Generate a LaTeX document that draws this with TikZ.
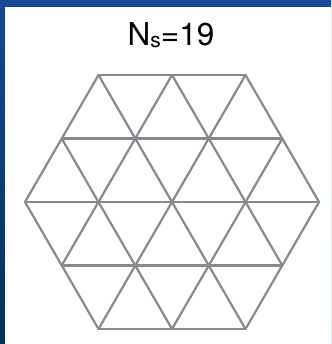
\documentclass[tikz,border=0pt]{standalone}
\usepackage{fontspec}
\setmainfont{TeX Gyre Heros}
\definecolor{bluetop}{RGB}{22,72,150}
\definecolor{bluebot}{RGB}{5,50,88}
\definecolor{gridgray}{RGB}{135,137,142}
\tikzset{gridline/.style={draw=gridgray,line width=2.2pt,line cap=round,line join=round}}
\begin{document}
\begin{tikzpicture}[x=1pt,y=-1pt]
\useasboundingbox (0,0) rectangle (331,344);
\shade[top color=bluetop,bottom color=bluebot] (0,0) rectangle (331,344);
\fill[white] (5,7) rectangle (331,344);
\node[anchor=base,inner sep=0pt,font=\fontsize{31.5}{36}\selectfont] (title) at (171,46)
  {N\raisebox{-2pt}{\fontsize{21}{24}\selectfont s}=19};
% rows
\foreach \i/\x in {0/98.5,1/172,2/245.5} {\coordinate (r0\i) at (\x,75);}
\foreach \i/\x in {0/61.75,1/135.25,2/208.75,3/282.25} {\coordinate (r1\i) at (\x,138.6);}
\foreach \i/\x in {0/25,1/98.5,2/172,3/245.5,4/319} {\coordinate (r2\i) at (\x,202);}
\foreach \i/\x in {0/61.75,1/135.25,2/208.75,3/282.25} {\coordinate (r3\i) at (\x,265.4);}
\foreach \i/\x in {0/98.5,1/172,2/245.5} {\coordinate (r4\i) at (\x,329);}
% horizontals
\draw[gridline] (r00) -- (r02);
\draw[gridline] (r10) -- (r13);
\draw[gridline] (r20) -- (r24);
\draw[gridline] (r30) -- (r33);
\draw[gridline] (r40) -- (r42);
% down-right diagonals
\draw[gridline] (r00) -- (r42);
\draw[gridline] (r01) -- (r33);
\draw[gridline] (r02) -- (r24);
\draw[gridline] (r10) -- (r41);
\draw[gridline] (r20) -- (r40);
% down-left diagonals
\draw[gridline] (r02) -- (r40);
\draw[gridline] (r01) -- (r30);
\draw[gridline] (r00) -- (r20);
\draw[gridline] (r13) -- (r41);
\draw[gridline] (r24) -- (r42);
\end{tikzpicture}
\end{document}
